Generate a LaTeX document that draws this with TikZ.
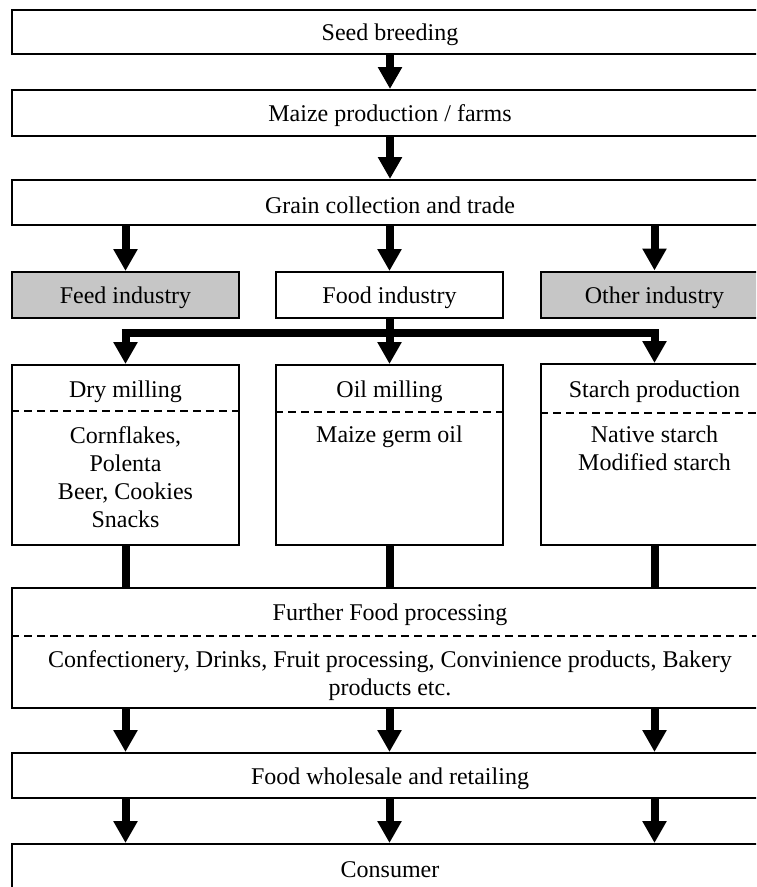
\documentclass[tikz,border=0pt]{standalone}
\usepackage{fontspec}
\setmainfont{Liberation Serif}
\usetikzlibrary{arrows.meta}
\begin{document}
\begin{tikzpicture}[x=1pt,y=-1pt,
  box/.style={draw, line width=2pt, rectangle, inner sep=0pt, fill=white},
  graybox/.style={box, fill=gray!45},
  txt/.style={inner sep=0pt, align=center, yshift=-3pt, font=\fontsize{24}{28}\selectfont},
  arr/.style={line width=8pt, -{Triangle[width=23pt,length=22pt]}},
  bar/.style={line width=8pt},
  sep/.style={line width=2pt, dash pattern=on 8pt off 5pt}
]
\path[use as bounding box, clip] (0,0) rectangle (756,887);
% wide boxes
\node[box, minimum width=756pt, minimum height=44pt] (seed) at (390,32) {};
\node[txt] (seedt) at (seed.center) {Seed breeding};
\node[box, minimum width=756pt, minimum height=46pt] (maize) at (390,113) {};
\node[txt] (maizet) at (maize.center) {Maize production / farms};
\node[box, minimum width=756pt, minimum height=45pt] (grain) at (390,202.5) {};
\node[txt] (graint) at (grain.center) {Grain collection and trade};
% industries
\node[graybox, minimum width=227pt, minimum height=46pt] (feed) at (125.5,295) {};
\node[txt] (feedt) at (feed.center) {Feed industry};
\node[box, minimum width=227pt, minimum height=46pt] (food) at (389.5,295) {};
\node[txt] (foodt) at (food.center) {Food industry};
\node[graybox, minimum width=227pt, minimum height=46pt] (other) at (654.5,294.5) {};
\node[txt] (othert) at (other.center) {Other industry};
% processing boxes
\node[box, minimum width=227pt, minimum height=180pt] (dry) at (125.5,455) {};
\node[txt] (dryt) at (125.5,389) {Dry milling};
\draw[sep] (dry.west |- 0,411) -- (dry.east |- 0,411);
\node[txt, anchor=north] (dryc) at (125.5,423) {Cornflakes,\\Polenta\\Beer, Cookies\\Snacks};
\node[box, minimum width=227pt, minimum height=180pt] (oil) at (389.5,455) {};
\node[txt] (oilt) at (389.5,389) {Oil milling};
\draw[sep] (oil.west |- 0,412) -- (oil.east |- 0,412);
\node[txt, anchor=north] (oilc) at (389.5,423) {Maize germ oil};
\node[box, minimum width=227pt, minimum height=181pt] (starch) at (654.5,454.5) {};
\node[txt] (starcht) at (654.5,389) {Starch production};
\draw[sep] (starch.west |- 0,413) -- (starch.east |- 0,413);
\node[txt, anchor=north] (starchc) at (654.5,423) {Native starch\\Modified starch};
% further
\node[box, minimum width=756pt, minimum height=120pt] (further) at (390,648) {};
\node[txt] (furthert) at (390,612) {Further Food processing};
\draw[sep] (further.west |- 0,636) -- (further.east |- 0,636);
\node[txt, anchor=north] (furtherc) at (390,647) {Confectionery, Drinks, Fruit processing, Convinience products, Bakery\\products etc.};
% wholesale, consumer
\node[box, minimum width=756pt, minimum height=45pt] (whole) at (390,775.5) {};
\node[txt] (wholet) at (whole.center) {Food wholesale and retailing};
\node[box, minimum width=756pt, minimum height=70pt] (cons) at (390,879) {};
\node[txt] (const) at (390,867) {Consumer};
% connectors
\draw[arr] (seed.south) -- (maize.north);
\draw[arr] (maize.south) -- (grain.north);
\draw[arr] (feed.north |- grain.south) -- (feed.north);
\draw[arr] (food.north |- grain.south) -- (food.north);
\draw[arr] (other.north |- grain.south) -- (other.north);
\coordinate (hub) at (389.5,333);
\draw[bar] (food.south) -- ([yshift=4pt]hub);
\draw[bar] ([xshift=-4pt]dry.north |- hub) -- ([xshift=4pt]starch.north |- hub);
\draw[arr] ([yshift=-4pt]dry.north |- hub) -- (dry.north);
\draw[arr] ([yshift=-4pt]hub) -- (oil.north);
\draw[arr] ([yshift=-4pt]starch.north |- hub) -- (starch.north);
\draw[bar] (dry.south) -- (dry.south |- further.north);
\draw[bar] (oil.south) -- (oil.south |- further.north);
\draw[bar] (starch.south) -- (starch.south |- further.north);
\draw[arr] (dry.south |- further.south) -- (dry.south |- whole.north);
\draw[arr] (oil.south |- further.south) -- (oil.south |- whole.north);
\draw[arr] (starch.south |- further.south) -- (starch.south |- whole.north);
\draw[arr] (dry.south |- whole.south) -- (dry.south |- cons.north);
\draw[arr] (oil.south |- whole.south) -- (oil.south |- cons.north);
\draw[arr] (starch.south |- whole.south) -- (starch.south |- cons.north);
\end{tikzpicture}
\end{document}
